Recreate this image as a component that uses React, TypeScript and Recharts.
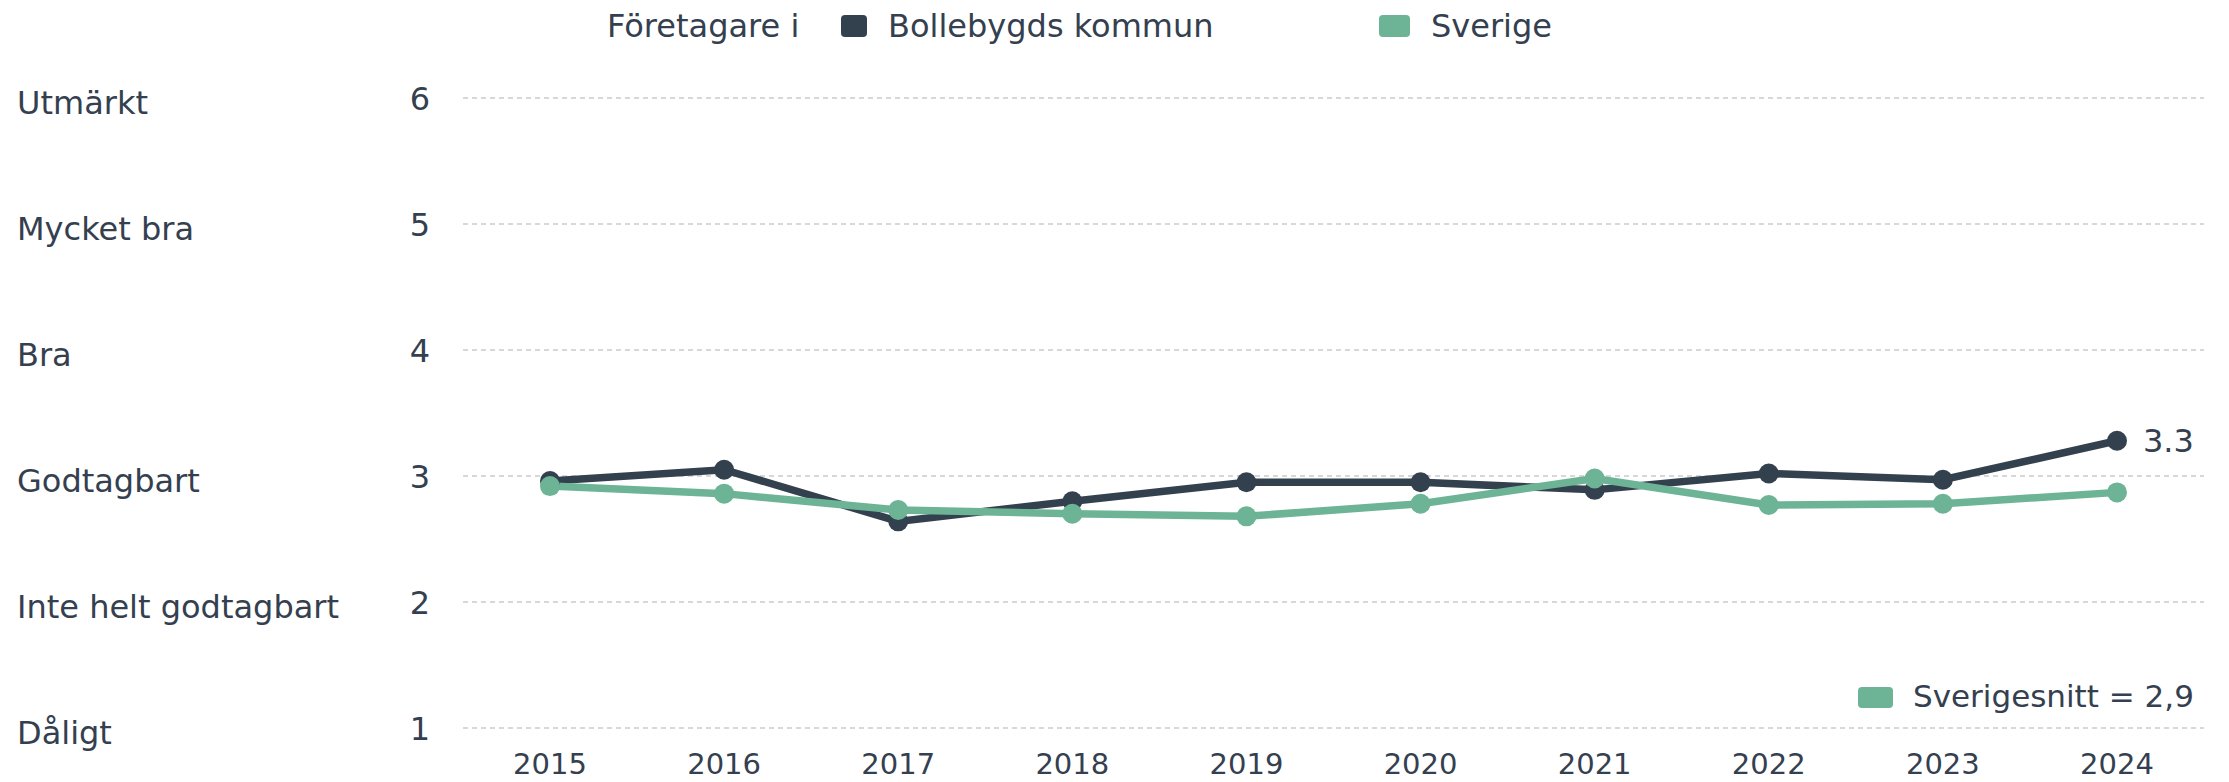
import { LineChart, Line, XAxis, YAxis, CartesianGrid } from "recharts";

const years = ["2015", "2016", "2017", "2018", "2019", "2020", "2021", "2022", "2023", "2024"];
const bollebygd = [2.96, 3.05, 2.64, 2.8, 2.95, 2.95, 2.89, 3.02, 2.97, 3.28];
const sverige = [2.92, 2.86, 2.73, 2.7, 2.68, 2.78, 2.98, 2.77, 2.78, 2.87];
const yTicks = [1, 2, 3, 4, 5, 6];
const yLabels = ["Dåligt", "Inte helt godtagbart", "Godtagbart", "Bra", "Mycket bra", "Utmärkt"];
const legendTitle = "Företagare i";
const seriesNames = ["Bollebygds kommun", "Sverige"];
const averageText = "Sverigesnitt = 2,9";

const DARK = "#33404e";
const GREEN = "#6db395";
const TEXT = "#34404f";
const FONT = "'DejaVu Sans', sans-serif";

const data = years.map((year, i) => ({
  year,
  kommun: bollebygd[i],
  sverige: sverige[i],
}));

const YTick = (props: any) => {
  const { y, payload } = props;
  const idx = yTicks.indexOf(payload.value);
  return (
    <g fill={TEXT} fontFamily={FONT} fontSize={32}>
      <text x={17} y={y + 4} dy="0.365em" textAnchor="start">
        {yLabels[idx]}
      </text>
      <text x={430} y={y} dy="0.365em" textAnchor="end">
        {payload.value}
      </text>
    </g>
  );
};

const XTick = (props: any) => {
  const { x, payload } = props;
  return (
    <text x={x} y={774} textAnchor="middle" fill={TEXT} fontFamily={FONT} fontSize={29}>
      {payload.value}
    </text>
  );
};

const lastLabel = (props: any) => {
  const { x, y, index, value } = props;
  if (index !== bollebygd.length - 1) return null;
  return (
    <text x={x + 26} y={y} dy="0.365em" fill={TEXT} fontFamily={FONT} fontSize={32}>
      {Number(value).toFixed(1)}
    </text>
  );
};

const box = (color: string, left: number, top: number, w: number, h: number) => (
  <div
    style={{
      position: "absolute",
      left,
      top,
      width: w,
      height: h,
      background: color,
      borderRadius: 4,
    }}
  />
);

const label = (text: string, left: number, centerY: number, size: number) => (
  <div
    style={{
      position: "absolute",
      left,
      top: centerY - size * 0.6,
      height: size * 1.2,
      lineHeight: `${size * 1.2}px`,
      fontFamily: FONT,
      fontSize: size,
      color: TEXT,
      whiteSpace: "nowrap",
    }}
  >
    {text}
  </div>
);

export default function App() {
  return (
    <div style={{ position: "absolute", left: 0, top: 0, width: 2229, height: 782, background: "#fff" }}>
      <LineChart width={2229} height={782} data={data} margin={{ top: 98, right: 25, bottom: 0, left: 0 }}>
        <CartesianGrid vertical={false} stroke="#cccccc" strokeDasharray="5 4" strokeWidth={1.5} />
        <XAxis
          dataKey="year"
          axisLine={false}
          tickLine={false}
          height={54}
          padding={{ left: 87, right: 87 }}
          tick={<XTick />}
          interval={0}
        />
        <YAxis
          type="number"
          domain={[1, 6]}
          ticks={yTicks}
          width={463}
          axisLine={false}
          tickLine={false}
          tick={<YTick />}
        />
        <Line
          dataKey="kommun"
          stroke={DARK}
          strokeWidth={7.5}
          dot={{ r: 10, fill: DARK, stroke: DARK, strokeWidth: 0 }}
          isAnimationActive={false}
          label={lastLabel}
        />
        <Line
          dataKey="sverige"
          stroke={GREEN}
          strokeWidth={7.5}
          dot={{ r: 10, fill: GREEN, stroke: GREEN, strokeWidth: 0 }}
          isAnimationActive={false}
        />
      </LineChart>

      {label(legendTitle, 607, 26, 32)}
      {box(DARK, 841, 15, 26, 22)}
      {label(seriesNames[0], 888, 26, 32)}
      {box(GREEN, 1379, 15, 31, 22)}
      {label(seriesNames[1], 1431, 26, 32)}

      {box(GREEN, 1858, 687, 35, 21)}
      {label(averageText, 1913, 697, 31)}
    </div>
  );
}
